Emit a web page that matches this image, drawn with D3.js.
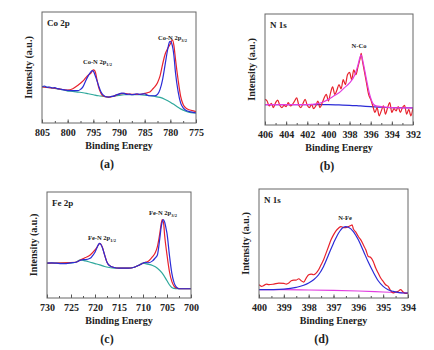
<!DOCTYPE html>
<html><head><meta charset="utf-8">
<script src="https://cdn.jsdelivr.net/npm/d3@7"></script>
<style>
html,body{margin:0;padding:0;background:#fff;}
text{font-family:"Liberation Serif","Times New Roman",serif;font-weight:bold;fill:#222;}
</style></head>
<body><svg id="c" width="434" height="350"></svg>
<script>
// ---- data: [binding energy (eV), intensity (a.u.)] ----
const coRawA = [[805,138],[804.5,140],[804,136],[803.5,137],[803,134],[802.5,135],[802,132],[801.5,131],[801,129],[800.5,128],[800,127],[799,126],[798,126],[797.5,130],[797,138],[796.5,155],[796,170],[795.5,182],[795.2,186],[795,184],[794.5,165],[794,142],[793.5,122],[793,112],[792.5,108],[792,107],[791.5,109],[791,110],[790.5,114],[790,116],[789.5,119],[789,118],[788.5,115],[788,116],[787.5,114],[787,115],[786.5,117],[786,115],[785.5,116],[785,117],[784.5,113],[784,111],[783,111],[782.5,115],[782,130],[781.5,160],[781,205],[780.5,250],[780.2,270],[780,273],[779.7,265],[779.3,230],[779,180],[778.5,125],[778,90],[777.5,75],[777,68],[776,63],[775,60]];
const coFitA = [[805,137],[802,132],[800,128],[799,132],[798,142],[797,155],[796.5,164],[796,172],[795.5,178],[795,188],[794.7,185],[794.3,160],[794,138],[793.5,118],[793,110],[792,107],[791,110],[790,116],[789,118],[788,116],[787,115],[786,115],[785,118],[784,122],[783.5,130],[783,138],[782.5,150],[782,170],[781.5,205],[781,235],[780.5,252],[780,265],[779.6,277],[779.3,260],[779,220],[778.5,160],[778,110],[777.5,85],[777,75],[776.5,70],[776,68],[775,64]];
const coBgA = [[805,138],[803,134],[801,129],[800,125],[799,124],[798,122],[797,120],[796,117],[795,114],[794,111],[793,109],[792,107],[791,110],[790,112],[789,114],[788,114],[787,114],[786,114],[785,113],[784,111],[783,109],[782,106],[781,100],[780,92],[779,82],[778,72],[777,65],[776,61],[775,60]];

const n1sRawB = [[406,100],[405.8,95],[405.6,80],[405.4,88],[405.2,75],[405,90],[404.8,98],[404.6,82],[404.4,75],[404.2,82],[404,78],[403.8,90],[403.6,80],[403.4,85],[403.2,95],[403,105],[402.8,82],[402.6,75],[402.4,88],[402.2,100],[402,82],[401.8,75],[401.6,85],[401.4,72],[401.2,80],[401,95],[400.8,75],[400.6,88],[400.4,105],[400.2,115],[400,95],[399.8,120],[399.6,138],[399.4,115],[399.2,128],[399,145],[398.8,132],[398.6,160],[398.4,145],[398.2,175],[398,182],[397.8,160],[397.6,190],[397.4,175],[397.2,200],[397,225],[396.9,240],[396.8,220],[396.6,185],[396.4,150],[396.2,115],[396,100],[395.8,80],[395.6,60],[395.4,75],[395.2,50],[395,65],[394.8,80],[394.6,55],[394.4,75],[394.2,90],[394,60],[393.8,72],[393.6,65],[393.4,78],[393.2,60],[393,75],[392.8,82],[392.6,55],[392.4,70],[392.2,50],[392,75]];
const n1sFitB = [[406,84],[403,84],[402,84],[401,87],[400.5,92],[400,100],[399.5,110],[399,120],[398.5,135],[398,150],[397.5,175],[397.2,205],[397,230],[396.9,235],[396.7,210],[396.4,160],[396.1,115],[395.8,88],[395.5,80],[395,78],[394,75],[392,74]];
const n1sBgB = [[406,84],[404,84],[402,84],[400,84],[399,83],[398,82],[397,80],[396,78],[395,76],[394,75],[393,74.5],[392,74]];

const feRawC = [[730,135],[729,136],[728,135],[727,134],[726,134],[725,136],[724,138],[723,144],[722.5,146],[722,146],[721,150],[720.5,158],[720,168],[719.5,185],[719.2,193],[719,195],[718.7,190],[718.3,175],[718,160],[717.5,138],[717,128],[716,122],[715,120],[714,120],[713,120],[712,122],[711,128],[710,135],[709.5,138],[709,136],[708,142],[707.5,150],[707,160],[706.5,210],[706.2,245],[706,260],[705.8,267],[705.5,260],[705.2,240],[705,225],[704.5,160],[704,105],[703.5,75],[703,62],[702.5,58],[702,58],[701,58],[700,58]];
const feFitC = [[730,135],[724,138],[723,145],[722,152],[721,160],[720,175],[719.5,185],[719,195],[718.5,185],[718,160],[717.5,138],[717,128],[716,122],[715,120],[713,120],[712,122],[711,128],[710,135],[709.5,138],[709,140],[708,155],[707.5,165],[707,185],[706.5,225],[706.2,255],[706,267],[705.7,255],[705.5,220],[705,160],[704.5,110],[704,80],[703.5,65],[703,60],[702,58],[700,58]];
const feBgC = [[730,135],[725,136],[724,138],[723,145],[722,142],[721,138],[720,134],[719,130],[718,125],[717,122],[716,120],[715,120],[714,120],[713,120],[712,122],[711,128],[710,135],[709,132],[708,128],[707,120],[706,105],[705,82],[704.5,70],[704,62],[703.5,59],[703,58],[700,58]];

const n1sRawD = [[400,70],[399.9,65],[399.8,68],[399.7,72],[399.6,70],[399.4,72],[399.2,75],[399,74],[398.9,72],[398.8,75],[398.7,82],[398.6,84],[398.5,84],[398.4,88],[398.3,82],[398.2,78],[398.1,90],[398,100],[397.9,102],[397.8,100],[397.7,105],[397.6,115],[397.5,130],[397.4,145],[397.3,165],[397.2,185],[397.1,205],[397,220],[396.9,232],[396.8,240],[396.7,245],[396.6,242],[396.5,242],[396.4,245],[396.3,248],[396.25,250],[396.2,238],[396.1,228],[396,215],[395.9,205],[395.8,190],[395.7,175],[395.6,155],[395.5,152],[395.4,140],[395.3,120],[395.2,105],[395.1,90],[395,80],[394.9,70],[394.8,65],[394.7,52],[394.6,45],[394.5,48],[394.4,50],[394.3,55],[394.2,48],[394.1,44],[394,45]];
const n1sFitD = [[400,55],[399,57],[398.5,62],[398,75],[397.8,85],[397.6,100],[397.4,125],[397.2,160],[397,195],[396.8,225],[396.6,243],[396.5,245],[396.4,243],[396.2,230],[396,205],[395.8,172],[395.6,138],[395.4,108],[395.2,82],[395,65],[394.8,55],[394.6,50],[394.4,47],[394.2,45],[394,45]];
const n1sBgD = [[400,55],[399,55],[398,54],[397,53],[396,51],[395,48],[394,45]];

const ticksA = [805,800,795,790,785,780,775];
const ticksB = [406,404,402,400,398,396,394,392];
const ticksC = [730,725,720,715,710,705,700];
const ticksD = [400,399,398,397,396,395,394];

// ---- layout / style ----
const RED="#e8222c", BLUE="#2b2bd6", TEAL="#2fa89c", MAG="#e23de0";
const panels = [
 {box:[42,12,196,123], xd:[805,775], yd:[30,360], ticks:ticksA, minor:2.5,
  series:[[coBgA,TEAL],[coFitA,RED],[coRawA,BLUE]], title:"Co 2p", label:"(a)",
  peaks:[{t:"Co-N 2p",s:"1/2",x:83,y:64},{t:"Co-N 2p",s:"3/2",x:158,y:40}]},
 {box:[265,14,413,125], xd:[406,392], yd:[22,360], ticks:ticksB, minor:1,
  series:[[n1sBgB,BLUE],[n1sRawB,RED],[n1sFitB,MAG]], title:"N 1s", label:"(b)",
  peaks:[{t:"N-Co",s:"",x:359,y:48,mid:true}]},
 {box:[47,192,191,298], xd:[730,700], yd:[30,350], ticks:ticksC, minor:2.5,
  series:[[feBgC,TEAL],[feFitC,RED],[feRawC,BLUE]], title:"Fe 2p", label:"(c)",
  peaks:[{t:"Fe-N 2p",s:"1/2",x:88,y:240},{t:"Fe-N 2p",s:"3/2",x:149,y:215}]},
 {box:[259,189,408,298], xd:[400,394], yd:[30,358], ticks:ticksD, minor:0.5,
  series:[[n1sBgD,MAG],[n1sRawD,RED],[n1sFitD,BLUE]], title:"N 1s", label:"(d)",
  peaks:[{t:"N-Fe",s:"",x:345,y:220,mid:true}]}
];

const svg = d3.select("#c");
panels.forEach(p=>{
  const [x0,y0,x1,y1]=p.box;
  const x = d3.scaleLinear().domain(p.xd).range([x0,x1]);
  const y = d3.scaleLinear().domain(p.yd).range([y1,y0]);
  const g = svg.append("g");
  const clipId = "clip"+p.label.replace(/\W/g,"");
  svg.append("clipPath").attr("id",clipId).append("rect").attr("x",x0).attr("y",y0).attr("width",x1-x0).attr("height",y1-y0);
  const line = d3.line().x(d=>x(d[0])).y(d=>y(d[1])).curve(d3.curveMonotoneX);
  p.series.forEach(([data,col])=>{
    g.append("path").datum(data).attr("d",line).attr("fill","none").attr("stroke",col)
     .attr("stroke-width",1.2).attr("clip-path",`url(#${clipId})`);
  });
  // minor ticks
  const lo=Math.min(...p.xd), hi=Math.max(...p.xd);
  const minors=[]; for(let v=lo; v<=hi+1e-9; v+=p.minor) minors.push(+v.toFixed(3));
  g.append("g").attr("transform",`translate(0,${y1})`)
   .call(d3.axisBottom(x).tickValues(minors).tickSize(-2).tickFormat(""))
   .call(a=>{a.select(".domain").remove(); a.selectAll("line").attr("stroke","#555");});
  const ax = g.append("g").attr("transform",`translate(0,${y1})`)
   .call(d3.axisBottom(x).tickValues(p.ticks).tickSize(-3.5).tickPadding(6).tickFormat(d3.format("d")));
  ax.select(".domain").remove();
  ax.selectAll("line").attr("stroke","#555");
  ax.selectAll("text").attr("font-size",10).attr("font-family","Liberation Serif").attr("font-weight","bold").attr("fill","#222");
  g.append("rect").attr("x",x0).attr("y",y0).attr("width",x1-x0).attr("height",y1-y0)
   .attr("fill","none").attr("stroke","#666").attr("stroke-width",1);
  g.append("text").attr("x",x0+5).attr("y",y0+14).attr("font-size",9).text(p.title);
  p.peaks.forEach(k=>{
    const t=g.append("text").attr("x",k.x).attr("y",k.y).attr("font-size",6.5)
      .attr("text-anchor",k.mid?"middle":"start").text(k.t);
    if(k.s) t.append("tspan").attr("font-size",4.5).attr("dy",1.5).text(k.s);
  });
  g.append("text").attr("x",(x0+x1)/2).attr("y",y1+26).attr("text-anchor","middle").attr("font-size",10).text("Binding Energy");
  g.append("text").attr("transform",`translate(${x0-10},${(y0+y1)/2}) rotate(-90)`).attr("text-anchor","middle")
   .attr("font-size",10).text("Intensity (a.u.)");
  g.append("text").attr("x",(x0+x1)/2 - 12).attr("y",y1+45).attr("text-anchor","middle").attr("font-size",12).attr("fill","#1c2233").text(p.label);
});
</script></body></html>
